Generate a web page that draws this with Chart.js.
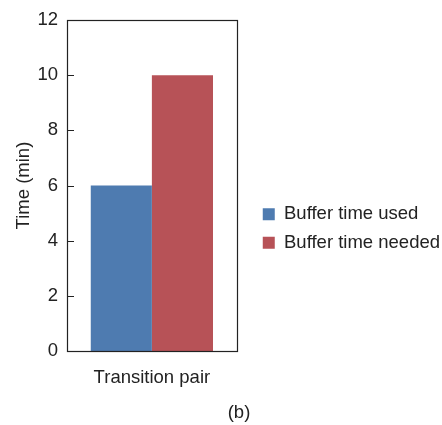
<!DOCTYPE html>
<html><head><meta charset="utf-8">
<script src="https://cdn.jsdelivr.net/npm/chart.js@4"></script>
<style>html,body{margin:0;padding:0;background:#fff}#wrap{width:442px;height:425px}</style>
</head><body><div id="wrap"><canvas id="c"></canvas></div>
<script>
const categories = ['Transition pair'];
const seriesNames = ['Buffer time used', 'Buffer time needed'];
const bufferUsed = [6];
const bufferNeeded = [10];
const yTicks = [0, 2, 4, 6, 8, 10, 12];
const caption = '(b)';

const FONT = "'Liberation Sans', Arial, sans-serif";
const FS = 18.5;
Chart.defaults.font.family = FONT;
Chart.defaults.color = '#222';

const framePlugin = {
  id: 'frame',
  afterLayout(chart) {
    const L = chart.legend;
    if (L) { L.left += 16; L.right += 16; L.top += 8; L.bottom += 8; }
  },
  afterDatasetsDraw(chart) {
    const {ctx, chartArea: a, scales} = chart;
    ctx.save();
    ctx.strokeStyle = '#222';
    ctx.lineWidth = 1.2;
    ctx.strokeRect(Math.round(a.left) + 0.5, Math.round(a.top) + 0.5, Math.round(a.right - a.left), Math.round(a.bottom - a.top));
    ctx.beginPath();
    yTicks.forEach(v => {
      const y = Math.round(scales.y.getPixelForValue(v)) + 0.5;
      ctx.moveTo(a.left, y); ctx.lineTo(a.left + 7, y);
    });
    ctx.stroke();
    ctx.fillStyle = '#222';
    ctx.font = FS + 'px ' + FONT;
    ctx.textAlign = 'center';
    ctx.textBaseline = 'middle';
    ctx.fillText(caption, 239, 413);
    ctx.restore();
  }
};

new Chart(document.getElementById('c'), {
  type: 'bar',
  data: {
    labels: categories,
    datasets: [
      {label: seriesNames[0], data: bufferUsed, backgroundColor: '#4E7BB0', borderWidth: 0},
      {label: seriesNames[1], data: bufferNeeded, backgroundColor: '#B75257', borderWidth: 0}
    ]
  },
  options: {
    responsive: true,
    maintainAspectRatio: false,
    animation: false,
    layout: {padding: {left: 4, top: 16, right: 8, bottom: 0}},
    datasets: {bar: {categoryPercentage: 0.72, barPercentage: 1}},
    plugins: {
      tooltip: {enabled: false},
      legend: {
        position: 'right',
        maxWidth: 260,
        labels: {boxWidth: 12, boxHeight: 12, padding: 10, font: {size: FS}, color: '#222'}
      }
    },
    scales: {
      x: {
        afterFit(s) { s.height = 74; },
        grid: {display: false, drawTicks: false},
        border: {display: false},
        ticks: {font: {size: FS}, color: '#222', padding: 16}
      },
      y: {
        min: 0, max: 12,
        afterBuildTicks(s) { s.ticks = yTicks.map(v => ({value: v})); },
        afterFit(s) { s.width = 63; },
        grid: {display: false, drawTicks: false},
        border: {display: false},
        ticks: {font: {size: FS}, color: '#222', padding: 9},
        title: {display: true, text: 'Time (min)', font: {size: FS}, color: '#222', padding: {top: 9, bottom: 0}}
      }
    }
  },
  plugins: [framePlugin]
});
</script></body></html>
